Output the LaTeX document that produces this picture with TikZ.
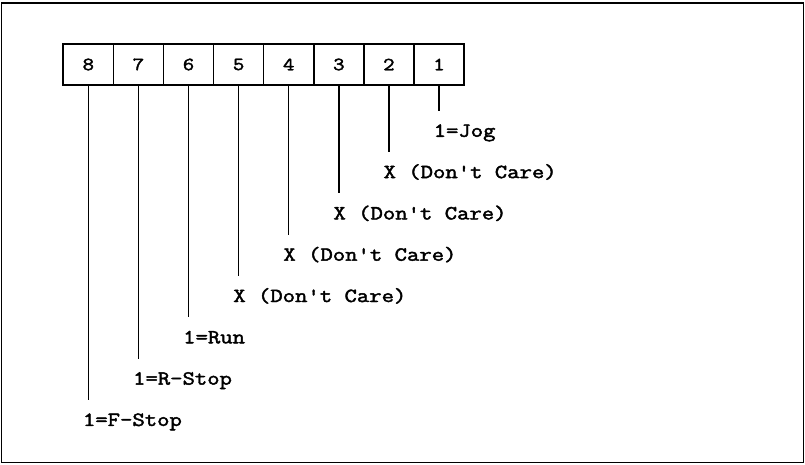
\documentclass[tikz,border=0pt]{standalone}
\usepackage{fontspec}
\usetikzlibrary{calc}
\newfontfamily\labfont{Latin Modern Mono}[FakeBold=2.2,FakeStretch=1.2]
\begin{document}
\begin{tikzpicture}[x=1pt,y=-1pt,
  bitbox/.style={draw=black,line width=1.6pt,minimum width=50.1pt,minimum height=41pt,inner sep=0pt,font=\labfont\fontsize{18.5}{18.5}\selectfont},
  lab/.style={anchor=base west,inner sep=0pt,font=\labfont\fontsize{20}{20}\selectfont},
  conn/.style={draw=black,line width=1.4pt}]
\useasboundingbox (0,0) rectangle (805,464);
\draw[line width=1.8pt] (1.5,3) rectangle (803.5,462.5);
\foreach \i in {1,...,8}{
  \node[bitbox] (b\i) at ({439-(\i-1)*50.1},64.5) {\i};
}
\foreach \i/\t in {1/{1=Jog},2/{X (Don't Care)},3/{X (Don't Care)},4/{X (Don't Care)},5/{X (Don't Care)},6/{1=Run},7/{1=R-Stop},8/{1=F-Stop}}{
  \coordinate (e\i) at ($(b\i.south)+(0,{25+(\i-1)*41.3})$);
  \draw[conn] (b\i.south) -- (e\i);
  \node[lab] (l\i) at ($(e\i)+(-5.5,26)$) {\t};
}
\end{tikzpicture}
\end{document}
